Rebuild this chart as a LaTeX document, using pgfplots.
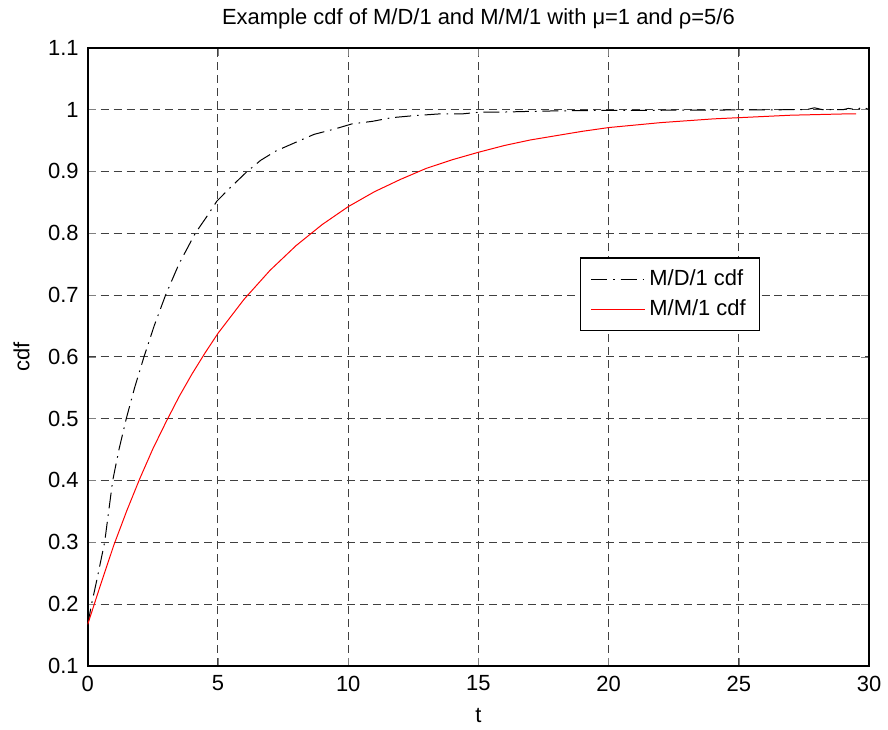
\documentclass[border=0pt]{standalone}
\usepackage{fontspec}
\setmainfont{Liberation Sans}
\usepackage{pgfplots}
\pgfplotsset{compat=1.18}
\begin{document}
\begin{tikzpicture}
\begin{axis}[
    scale only axis,
    width=392pt, height=310pt,
    xmin=0, xmax=30, ymin=0.1, ymax=1.1,
    xtick={0,5,...,30},
    ytick={0.1,0.2,...,1.1},
    yticklabel style={/pgf/number format/fixed, /pgf/number format/precision=1, xshift=-1pt},
    xticklabel style={yshift=-1.5pt},
    /pgf/number format/assume math mode=true,
    tick label style={font=\fontsize{11}{13}\selectfont},
    label style={font=\fontsize{11}{13}\selectfont},
    title style={font=\fontsize{11}{13}\selectfont, yshift=0pt},
    title={Example cdf of M/D/1 and M/M/1 with μ=1 and ρ=5/6},
    xlabel={t}, ylabel={cdf},
    xlabel style={yshift=-1.5pt},
    ylabel style={yshift=2.5pt},
    tick align=inside,
    major tick length=4pt,
    axis line style={line width=0.8pt},
    grid=major,
    grid style={black!75, line width=0.5pt, dash pattern=on 4pt off 2.5pt},
    legend style={at={(0.63,0.661)}, anchor=north west, draw=black, line width=0.6pt,
        font=\fontsize{11}{13}\selectfont, row sep=1.5pt, inner xsep=5pt, inner ysep=4pt,
        cells={anchor=west}},
    legend image code/.code={\draw[#1, line width=0.5pt] (0pt,0pt) -- (22pt,0pt);
        \path (0pt,0pt) -- (27pt,0pt);},
]
\addplot[black, line width=0.5pt, dash pattern=on 8pt off 3pt on 0.8pt off 3pt] coordinates {
    (0,0.167) (0.15,0.2) (0.34,0.237) (0.65,0.3) (0.96,0.4) (1.2,0.45) (1.48,0.5)
    (1.8,0.55) (2.16,0.6) (2.55,0.65) (2.99,0.7) (3.5,0.75) (4.13,0.8) (4.54,0.825)
    (4.96,0.852) (5.43,0.872) (6.07,0.898) (6.64,0.918) (7.22,0.933) (7.98,0.947)
    (8.69,0.960) (9.51,0.969) (10.15,0.977) (10.92,0.981) (11.67,0.987) (12.45,0.990)
    (13.47,0.993) (14.35,0.993) (15.07,0.996) (15.9,0.996) (16.8,0.997) (18,0.998)
    (20,0.999) (22,0.999) (25,0.9995) (27.6,1.0) (27.9,1.003) (28.2,1.0) (29,1.0)
    (29.2,1.002) (29.5,1.0) (29.75,1.004) (30,1.0)
};
\addlegendentry{M/D/1 cdf\hspace{5pt}}
\addplot[red, line width=0.5pt] coordinates {
    (0,0.167) (0.5,0.232) (1,0.295) (1.5,0.351) (2,0.403) (2.5,0.451) (3,0.494)
    (3.5,0.535) (4,0.572) (4.5,0.606) (5,0.638) (6,0.693) (7,0.740) (8,0.780)
    (9,0.814) (10,0.843) (11,0.867) (12,0.887) (13,0.905) (14,0.919) (15,0.931)
    (16,0.942) (17,0.951) (18,0.958) (19,0.965) (20,0.971) (21,0.975) (22,0.979)
    (23,0.982) (24,0.985) (25,0.987) (26,0.989) (27,0.991) (28,0.992) (29,0.993)
    (29.5,0.993)
};
\addlegendentry{M/M/1 cdf\hspace{5pt}}
\end{axis}
\path (current axis.south west) ++(-44pt,-30.5pt) coordinate (bbA);
\path (current axis.north east) ++(8pt,24pt) coordinate (bbB);
\path (bbA) rectangle (bbB);
\end{tikzpicture}
\end{document}
